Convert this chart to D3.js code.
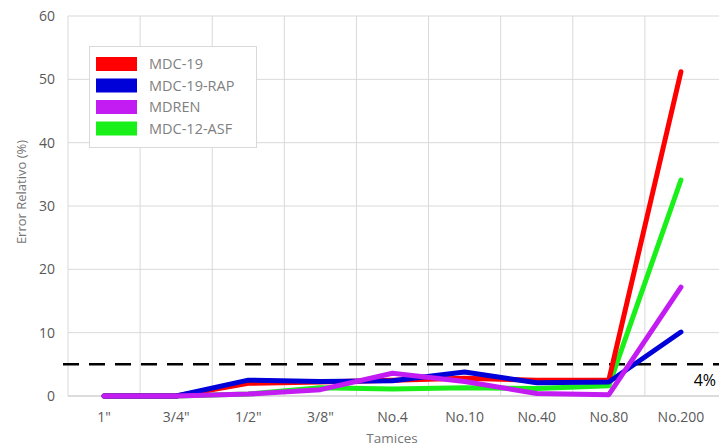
<!DOCTYPE html>
<html><head><meta charset="utf-8">
<script src="https://cdn.jsdelivr.net/npm/d3@7"></script>
<style>body{margin:0;background:#fff}svg{display:block;font-family:"Open Sans","Noto Sans",sans-serif}</style>
</head><body><svg id="c" width="719" height="447"></svg>
<script>
const categories = ['1"', '3/4"', '1/2"', '3/8"', 'No.4', 'No.10', 'No.40', 'No.80', 'No.200'];
const seriesNames = ["MDC-19", "MDC-19-RAP", "MDREN", "MDC-12-ASF"];
const seriesColors = ["#ff0000", "#0000d8", "#c31cf2", "#19f019"];
const mdc19    = [0, 0, 2.0, 2.2, 2.5, 2.8, 2.5, 2.5, 51.2];
const mdc19rap = [0, 0, 2.5, 2.3, 2.4, 3.8, 2.1, 2.2, 10.1];
const mdren    = [0, 0, 0.3, 1.0, 3.6, 2.3, 0.4, 0.2, 17.2];
const mdc12asf = [0, 0, 0.3, 1.3, 1.1, 1.3, 1.2, 1.6, 34.1];
const yTicks = [0, 10, 20, 30, 40, 50, 60];
const threshold = 5;
const thresholdLabel = "4%";

const svg = d3.select("#c");
const m = {l: 68, r: 2, t: 16, b: 51};
const W = 719, H = 447;
const x = d3.scaleBand().domain(categories).range([m.l, W - m.r]);
const y = d3.scaleLinear().domain([0, 60]).range([H - m.b, m.t]);

// gridlines
svg.append("g").selectAll("line").data(yTicks.filter(d => d > 0)).join("line")
  .attr("x1", m.l).attr("x2", W).attr("y1", d => y(d)).attr("y2", d => y(d))
  .attr("stroke", "#d9d9d9").attr("stroke-width", 1);
svg.append("g").selectAll("line").data(categories).join("line")
  .attr("x1", d => x(d)).attr("x2", d => x(d)).attr("y1", y(60)).attr("y2", y(0))
  .attr("stroke", "#d9d9d9").attr("stroke-width", 1);
svg.append("line").attr("x1", m.l).attr("x2", W).attr("y1", y(0)).attr("y2", y(0))
  .attr("stroke", "#d0d0d0").attr("stroke-width", 1.5);

// axes labels
const yAxis = d3.axisLeft(y).tickValues(yTicks).tickSize(0).tickPadding(13);
const gy = svg.append("g").attr("transform", `translate(${m.l},0)`).call(yAxis);
gy.select(".domain").remove();
gy.selectAll("text").attr("fill", "#595959").attr("font-size", 14).attr("font-family", "Open Sans, Noto Sans, sans-serif");

const xAxis = d3.axisBottom(x).tickSize(0).tickPadding(16);
const gx = svg.append("g").attr("transform", `translate(0,${y(0)})`).call(xAxis);
gx.select(".domain").remove();
gx.selectAll("text").attr("fill", "#595959").attr("font-size", 14).attr("font-family", "Open Sans, Noto Sans, sans-serif");

svg.append("text").attr("x", 392).attr("y", 443).attr("text-anchor", "middle")
  .attr("fill", "#757575").attr("font-size", 13.5).text("Tamices");
svg.append("text").attr("transform", `translate(26,192) rotate(-90)`)
  .attr("text-anchor", "middle").attr("fill", "#757575").attr("font-size", 13).text("Error Relativo (%)");

// threshold dashed line
svg.append("line").attr("x1", 63).attr("x2", W).attr("y1", y(threshold)).attr("y2", y(threshold))
  .attr("stroke", "#000").attr("stroke-width", 2.5).attr("stroke-dasharray", "16,10");
svg.append("text").attr("x", 716).attr("y", 386).attr("text-anchor", "end")
  .attr("fill", "#000").attr("font-size", 16).text(thresholdLabel);

// series lines
const allSeries = [mdc19, mdc19rap, mdren, mdc12asf];
const drawOrder = [3, 0, 1, 2];
const line = d3.line().x((d, i) => x(categories[i]) + x.bandwidth() / 2).y(d => y(d));
drawOrder.forEach(k => {
  svg.append("path").datum(allSeries[k]).attr("d", line)
    .attr("fill", "none").attr("stroke", seriesColors[k]).attr("stroke-width", 5)
    .attr("stroke-linejoin", "round").attr("stroke-linecap", "round");
});

// legend
const lg = svg.append("g");
lg.append("rect").attr("x", 89.5).attr("y", 46.5).attr("width", 167).attr("height", 101)
  .attr("fill", "#fff").attr("stroke", "#d9d9d9");
seriesNames.forEach((n, i) => {
  const yy = 57 + i * 21.5;
  lg.append("rect").attr("x", 96).attr("y", yy).attr("width", 41).attr("height", 14).attr("fill", seriesColors[i]);
  lg.append("text").attr("x", 149).attr("y", yy + 12).attr("fill", "#7f7f7f").attr("font-size", 14.5).text(n);
});
</script></body></html>
